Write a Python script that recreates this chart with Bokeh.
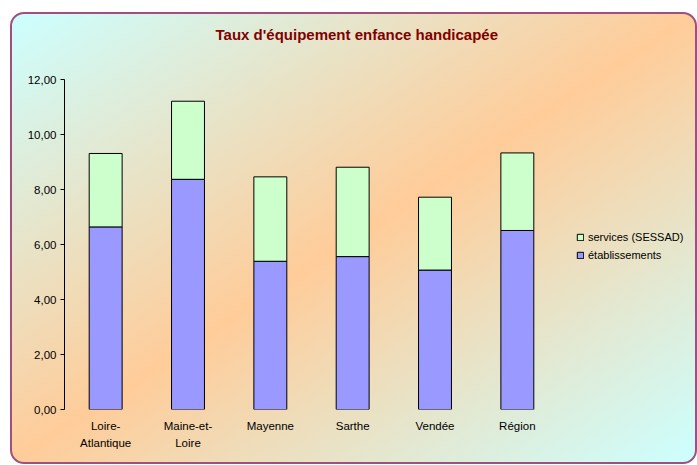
from bokeh.plotting import figure
from bokeh.layouts import row
from bokeh.models import (ColumnDataSource, FactorRange, Range1d, CustomJSTickFormatter,
                          Legend, LegendItem, FixedTicker, Title)
from bokeh.embed import file_html
from bokeh.resources import INLINE

# ---- data ----
categories = ["Loire-\nAtlantique", "Maine-et-\nLoire", "Mayenne", "Sarthe", "Vendée", "Région"]
etablissements = [6.64, 8.37, 5.39, 5.56, 5.07, 6.51]
services_sessad = [2.67, 2.84, 3.07, 3.25, 2.65, 2.82]
y_ticks = [0, 2, 4, 6, 8, 10, 12]
series_names = ["établissements", "services (SESSAD)"]
series_colors = ["#9999FF", "#CCFFCC"]
chart_title = "Taux d'équipement enfance handicapée"

FONT = "Liberation Sans"

source = ColumnDataSource(dict(cat=categories, etab=etablissements, serv=services_sessad))

# ---- main chart ----
p = figure(x_range=FactorRange(*categories), y_range=Range1d(0, 12),
           width=546, height=448, output_backend="svg", toolbar_location=None,
           min_border_left=52, min_border_top=65, min_border_right=0, min_border_bottom=53)
p.background_fill_alpha = 0
p.border_fill_alpha = 0
p.outline_line_color = None
p.xgrid.grid_line_color = None
p.ygrid.grid_line_color = None

# title (outermost) + spacer between title and frame
p.title.text = chart_title
p.title.align = "left"
p.title.offset = 151
p.title.vertical_align = "top"
p.title.standoff = 23
p.title.text_font = FONT
p.title.text_font_size = "15px"
p.title.text_font_style = "bold"
p.title.text_color = "#800000"
p.add_layout(Title(text=" ", text_font_size="1px", standoff=20), "above")

renderers = p.vbar_stack(["etab", "serv"], x="cat", width=0.4, source=source,
                         color=series_colors, line_color="black", line_width=1)

# y axis
p.yaxis.ticker = FixedTicker(ticks=y_ticks)
p.yaxis.formatter = CustomJSTickFormatter(code="return tick.toFixed(2).replace('.', ',');")
p.yaxis.major_tick_out = 4
p.yaxis.major_tick_in = 0
p.yaxis.minor_tick_line_color = None
p.yaxis.axis_line_color = "black"
p.yaxis.major_tick_line_color = "black"
p.yaxis.major_label_standoff = 4
p.yaxis.major_label_text_font = FONT
p.yaxis.major_label_text_font_size = "11.5px"
p.yaxis.major_label_text_color = "#000000"

# x axis
p.xaxis.axis_line_color = None
p.xaxis.major_tick_line_color = None
p.xaxis.minor_tick_line_color = None
p.xaxis.major_label_standoff = 4
p.xaxis.major_label_text_font = FONT
p.xaxis.major_label_text_font_size = "11.5px"
p.xaxis.major_label_text_color = "#000000"
p.xaxis.major_label_text_line_height = 1.44

# ---- legend panel (separate transparent figure, frame aligned with main chart) ----
lp = figure(x_range=Range1d(0, 1), y_range=Range1d(0, 1), width=137, height=448,
            output_backend="svg", toolbar_location=None,
            x_axis_location=None, y_axis_location=None, min_border=0)
lp.background_fill_alpha = 0
lp.border_fill_alpha = 0
lp.outline_line_color = None
lp.xgrid.grid_line_color = None
lp.ygrid.grid_line_color = None
# legend-key renderers: one zero-height sample placed outside the visible range
key_src = ColumnDataSource(dict(x=[2.0], top=[0.0]))
lr = [lp.vbar(x="x", top="top", width=0.1, source=key_src, color=c, line_color="black")
      for c in series_colors]

legend = Legend(items=[LegendItem(label=series_names[1], renderers=[lr[1]]),
                       LegendItem(label=series_names[0], renderers=[lr[0]])],
                location=(18, 147), margin=0, padding=0, spacing=4,
                glyph_width=8, glyph_height=8, label_height=14, label_standoff=4,
                label_text_font=FONT, label_text_font_size="11px", label_text_color="#000000",
                background_fill_alpha=0, border_line_alpha=0)
lp.add_layout(legend, "center")

lay = row(p, lp)
lay.margin = (12, 0, 0, 10)
lay.styles = {
    "background": "linear-gradient(to bottom right, #CCFFFF 0%, #FFCC99 50%, #CCFFFF 100%)",
    "border": "2px solid #A0507E",
    "border-radius": "14px",
}

open("out.html", "w").write(file_html(lay, INLINE))
